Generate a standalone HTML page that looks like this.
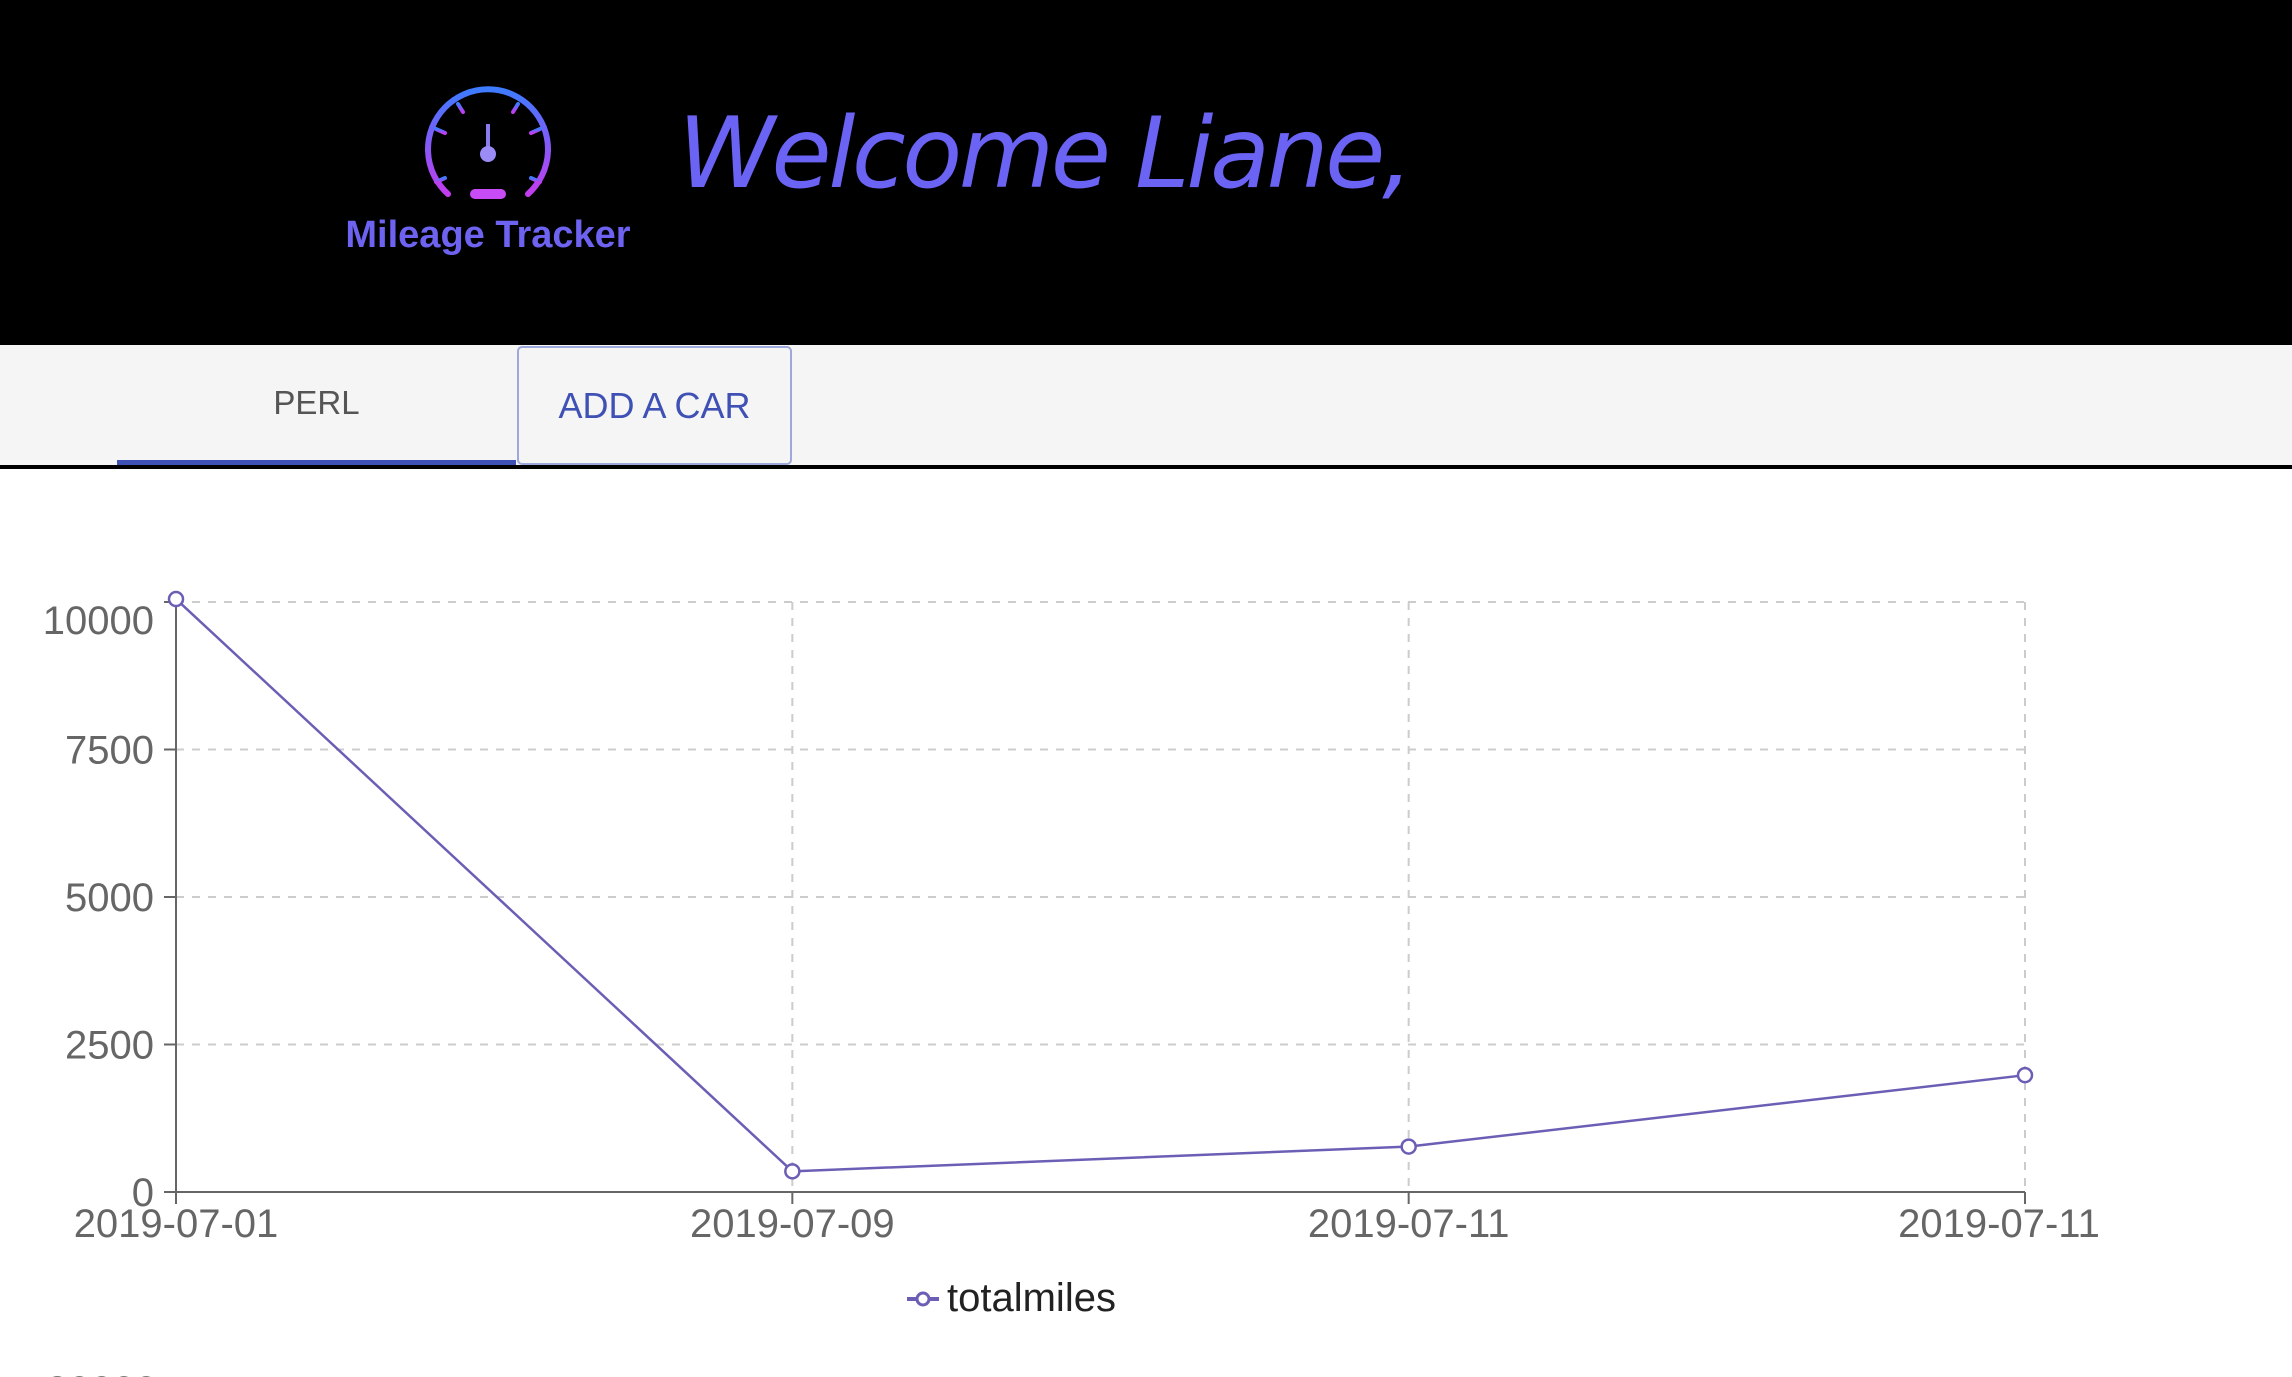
<!DOCTYPE html>
<html style="margin:0;width:2292px;height:1377px;overflow:hidden"><head><meta charset="utf-8">
<style>
body{margin:0;width:2292px;height:1377px;position:relative;background:#fff;overflow:hidden;font-family:"Liberation Sans",sans-serif}
.abs{position:absolute}
</style></head>
<body>
<div class="abs" style="left:0;top:0;width:2292px;height:345px;background:#000"></div>
<svg class="abs" style="left:420px;top:84px" width="136" height="130" viewBox="0 0 136 130">
<defs><linearGradient id="g" x1="0" y1="0" x2="0" y2="1"><stop offset="0" stop-color="#3d7bff"/><stop offset="1" stop-color="#c43cf0"/></linearGradient></defs>
<path d="M28 110 A60 60 0 1 1 108 110" fill="none" stroke="url(#g)" stroke-width="6" stroke-linecap="round"/>
<g stroke="url(#g)" stroke-width="4" stroke-linecap="round">
<line x1="68" y1="12" x2="68" y2="22"/><line x1="38" y1="20" x2="43" y2="28"/><line x1="98" y1="20" x2="93" y2="28"/>
<line x1="16" y1="45" x2="25" y2="49"/><line x1="120" y1="45" x2="111" y2="49"/><line x1="10" y1="72" x2="20" y2="72"/><line x1="126" y1="72" x2="116" y2="72"/>
<line x1="16" y1="98" x2="25" y2="94"/><line x1="120" y1="98" x2="111" y2="94"/></g>
<line x1="68" y1="40" x2="68" y2="65" stroke="#8a7cf0" stroke-width="4"/>
<circle cx="68" cy="70" r="8" fill="#9b8cf5"/>
<rect x="50" y="105" width="36" height="10" rx="5" fill="#c84cf5"/>
</svg>
<div class="abs" style="left:288px;top:214px;width:400px;text-align:center;white-space:nowrap;color:#6d63f0;font-size:38px;font-weight:bold;font-family:'Liberation Sans',sans-serif">Mileage Tracker</div>
<div class="abs" style="left:678px;top:94px;white-space:nowrap;color:#6b63f4;font-size:98px;font-style:italic;font-family:'DejaVu Sans',sans-serif;letter-spacing:-3.5px;line-height:120px">Welcome Liane,</div>

<div class="abs" style="left:0;top:345px;width:2292px;height:120px;background:#f5f5f5"></div>
<div class="abs" style="left:0;top:465px;width:2292px;height:4px;background:#000"></div>
<div class="abs" style="left:117px;top:345px;width:399px;height:115px;line-height:116px;text-align:center;color:#555;font-size:33px">PERL</div>
<div class="abs" style="left:117px;top:460px;width:399px;height:5px;background:#3f51b5"></div>
<div class="abs" style="left:517px;top:346px;width:271px;height:115px;border:2px solid #9fa8da;border-radius:5px;line-height:115px;text-align:center;color:#3f51b5;font-size:36px">ADD A CAR</div>

<svg class="abs" style="left:0;top:0" width="2292" height="1377">
<g id="grid"></g><g id="axes"></g><g id="series"></g>
</svg>
<div class="abs" style="left:905px;top:1276px;font-size:40px;color:#222;display:flex;align-items:center">
<svg width="36" height="20"><line x1="2" y1="10" x2="34" y2="10" stroke="#6b5fb5" stroke-width="4"/><circle cx="18" cy="10" r="6" fill="#fff" stroke="#6b5fb5" stroke-width="3"/></svg>
<span style="margin-left:6px">totalmiles</span></div>
<div class="abs" style="left:0;top:1360px;width:300px;height:17px;overflow:hidden">
<div class="abs" style="left:46px;top:8px;font-size:40px;line-height:46px;color:#666">20000</div></div>

<script>
const categories=["2019-07-01","2019-07-09","2019-07-11","2019-07-11"];
const totalmiles=[10050,350,770,1980];
const yTicks=[0,2500,5000,7500,10000];
const L=176,R=2025,T=602,B=1192,YMAX=10000;
const xs=i=>L+(R-L)*i/(categories.length-1);
const ys=v=>B-(B-T)*v/YMAX;
const NS="http://www.w3.org/2000/svg";
function mk(p,tag,a){const e=document.createElementNS(NS,tag);for(const k in a)e.setAttribute(k,a[k]);p.appendChild(e);return e;}
const grid=document.getElementById('grid'),axes=document.getElementById('axes'),ser=document.getElementById('series');
yTicks.forEach(v=>{if(v>0){const g=mk(grid,'line',{x1:L,x2:R,y1:ys(v),y2:ys(v),stroke:'#ccc','stroke-width':2,'stroke-dasharray':'8 8'});

}
const t=mk(axes,'line',{x1:L-12,x2:L,y1:ys(v),y2:ys(v),stroke:'#666','stroke-width':2});


const tx=mk(axes,'text',{x:L-22,y:(v===YMAX?ys(v)+32:ys(v)+14),'text-anchor':'end','font-size':40,fill:'#666','font-family':'Liberation Sans, sans-serif'});
tx.textContent=v;

});
categories.forEach((c,i)=>{if(i>0){const g=mk(grid,'line',{x1:xs(i),x2:xs(i),y1:T,y2:B,stroke:'#ccc','stroke-width':2,'stroke-dasharray':'8 8'});

}
const t=mk(axes,'line',{x1:xs(i),x2:xs(i),y1:B,y2:B+12,stroke:'#666','stroke-width':2});


const last=i===categories.length-1;
const tx=mk(axes,'text',{x:last?xs(i)-26:xs(i),y:B+45,'text-anchor':'middle','font-size':40,fill:'#666','font-family':'Liberation Sans, sans-serif'});
tx.textContent=c;

});
const ax=mk(axes,'line',{x1:L,x2:L,y1:T,y2:B,stroke:'#666','stroke-width':2});


const bx=mk(axes,'line',{x1:L,x2:R,y1:B,y2:B,stroke:'#666','stroke-width':2});


const pl=mk(ser,'polyline',{points:totalmiles.map((v,i)=>xs(i)+','+ys(v)).join(' '),fill:'none',stroke:'#6b5fb5','stroke-width':2.5});


totalmiles.forEach((v,i)=>{const c=mk(ser,'circle',{cx:xs(i),cy:ys(v),r:7,fill:'#fff',stroke:'#6b5fb5','stroke-width':2.5});

});
</script>
</body></html>
